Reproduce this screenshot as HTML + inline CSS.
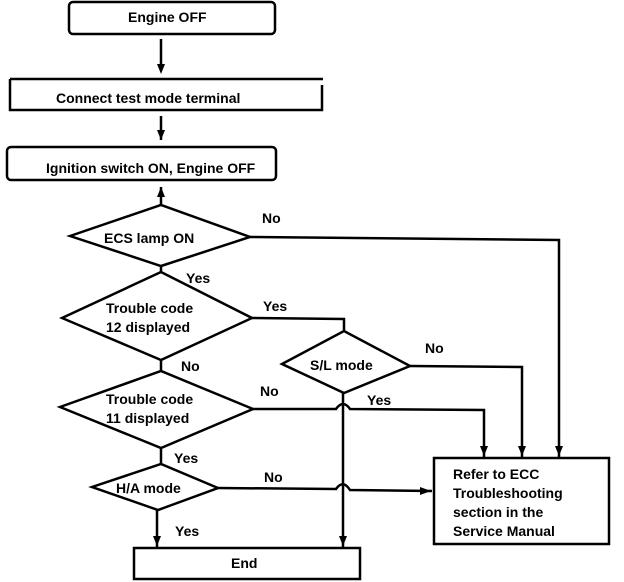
<!DOCTYPE html>
<html><head><style>
html,body{margin:0;padding:0;background:#fff}
svg{display:block}
text{font-family:"Liberation Sans",Arial,sans-serif;font-weight:bold;font-size:14px;fill:#000}
</style></head><body>
<svg width="624" height="582" viewBox="0 0 624 582" xmlns="http://www.w3.org/2000/svg">
<g fill="none" stroke="#000" stroke-width="2.5">
<rect x="69" y="2" width="206" height="32" rx="4"/>
<path d="M10 79 H323 M10 79 V110 H322 V85"/>
<rect x="7" y="147" width="269" height="33" rx="4"/>
<rect x="134" y="548" width="226" height="31"/>
<rect x="434" y="458" width="175" height="86"/>
<path d="M161 39 V70 M161 116 V140 M161 187 V205"/>
<path d="M70 236 L161 205 L250 237 L161 266 Z"/>
<path d="M62 318 L161 272 L252 318 L161 360 Z"/>
<path d="M282 364 L344 331 L410 366 L344 393 Z"/>
<path d="M60 407 L161 371 L253 409 L161 448 Z"/>
<path d="M92 487 L161 464 L218 488 L158 510 Z"/>
<path d="M161 266 V272 M161 360 V371 M161 448 V464"/>
<path d="M250 237 L559 240 V458"/>
<path d="M252 318 L344 319 V331"/>
<path d="M410 366 L522 367 V458"/>
<path d="M253 409 L336 409 Q343 399 350 409 L484 410 V458"/>
<path d="M218 488 L336 489 Q343 479 350 490 L432 491"/>
<path d="M343 393 V548"/>
<path d="M157 510 V548"/>
</g>
<g fill="#000">
<path d="M157 64 L165 64 L161 74 Z"/>
<path d="M157 130 L165 130 L161 140 Z"/>
<path d="M157 197 L165 197 L161 187 Z"/>
<path d="M555 446 L563 446 L559 456 Z"/>
<path d="M518 446 L526 446 L522 456 Z"/>
<path d="M480 446 L488 446 L484 456 Z"/>
<path d="M420 487 L420 495 L431 491 Z"/>
<path d="M339 536 L347 536 L343 546 Z"/>
<path d="M153 536 L161 536 L157 546 Z"/>
</g>
<text x="128" y="22">Engine OFF</text>
<text x="56" y="103">Connect test mode terminal</text>
<text x="46" y="173">Ignition switch ON, Engine OFF</text>
<text x="104" y="243">ECS lamp ON</text>
<text x="262" y="223">No</text>
<text x="186" y="283">Yes</text>
<text x="106" y="313">Trouble code</text>
<text x="106" y="332">12 displayed</text>
<text x="263" y="311">Yes</text>
<text x="181" y="371">No</text>
<text x="310" y="370">S/L mode</text>
<text x="425" y="353">No</text>
<text x="106" y="404">Trouble code</text>
<text x="106" y="423">11 displayed</text>
<text x="260" y="396">No</text>
<text x="367" y="405">Yes</text>
<text x="174" y="463">Yes</text>
<text x="116" y="493">H/A mode</text>
<text x="264" y="482">No</text>
<text x="175" y="536">Yes</text>
<text x="231" y="568">End</text>
<text x="453" y="479">Refer to ECC</text>
<text x="453" y="498">Troubleshooting</text>
<text x="453" y="517">section in the</text>
<text x="453" y="536">Service Manual</text>
</svg>
</body></html>
